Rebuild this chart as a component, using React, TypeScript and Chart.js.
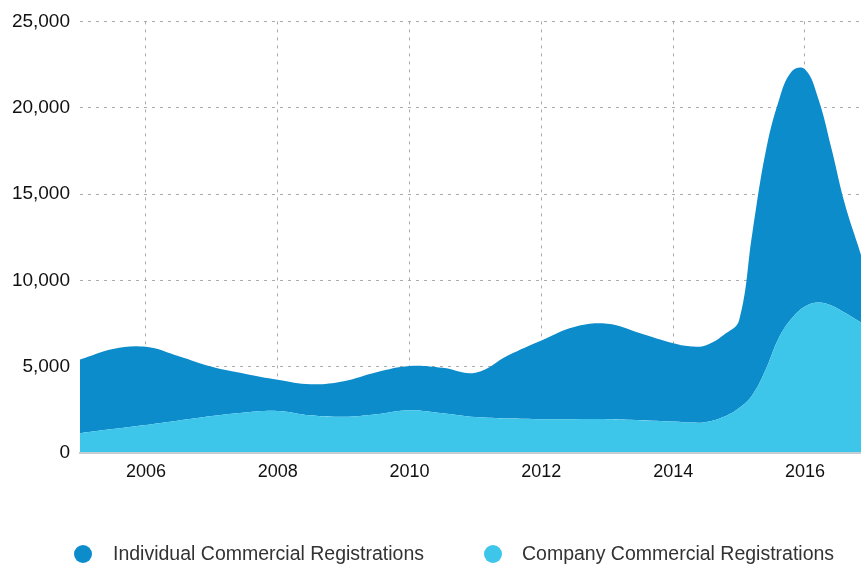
import React, { useEffect, useRef } from "react";
import { Chart, registerables } from "chart.js";

Chart.register(...registerables);

// decimal years of the sampled points
const years = [
  2005.0, 2005.5, 2006.0, 2006.5, 2007.0, 2007.5, 2008.0, 2008.5, 2009.0, 2009.5,
  2010.0, 2010.5, 2011.0, 2011.5, 2012.0, 2012.5, 2013.0, 2013.5, 2014.0, 2014.25,
  2014.5, 2014.8, 2015.0, 2015.2, 2015.4, 2015.6, 2015.8, 2016.0, 2016.2, 2016.4,
  2016.6, 2016.8, 2017.0,
];

const companyValues = [
  1150, 1390, 1620, 1880, 2140, 2350, 2440, 2180, 2100, 2250,
  2480, 2300, 2080, 2000, 1960, 1960, 1960, 1900, 1820, 1760,
  1800, 2150, 2600, 3350, 4790, 6640, 7800, 8490, 8720, 8550,
  8140, 7680, 7220,
];

const individualValues = [
  4260, 4640, 4530, 3720, 2850, 2240, 1800, 1800, 2060, 2430,
  2560, 2640, 2570, 3660, 4560, 5340, 5520, 5030, 4530, 4420,
  4440, 4780, 5080, 9350, 12590, 13740, 14310, 13740, 11830, 9120,
  6350, 4390, 2480,
];

const xTickYears = [2006, 2008, 2010, 2012, 2014, 2016];
const yTickValues = [0, 5000, 10000, 15000, 20000, 25000];

const seriesNames = ["Individual Commercial Registrations", "Company Commercial Registrations"];
const INDIVIDUAL_COLOR = "#0d8ccc";
const COMPANY_COLOR = "#3ec6ea";
const FONT = "'Liberation Sans', Arial, sans-serif";

export default function App() {
  const canvasRef = useRef<HTMLCanvasElement | null>(null);

  useEffect(() => {
    const canvas = canvasRef.current;
    if (!canvas) return;
    const chart = new Chart(canvas, {
      type: "line",
      data: {
        datasets: [
          {
            label: seriesNames[1],
            data: years.map((x, i) => ({ x, y: companyValues[i] })),
            backgroundColor: COMPANY_COLOR,
            borderWidth: 0,
            pointRadius: 0,
            fill: "origin",
            tension: 0.4,
          },
          {
            label: seriesNames[0],
            data: years.map((x, i) => ({ x, y: individualValues[i] })),
            backgroundColor: INDIVIDUAL_COLOR,
            borderWidth: 0,
            pointRadius: 0,
            fill: "-1",
            tension: 0.4,
          },
        ],
      },
      options: {
        animation: false,
        responsive: false,
        devicePixelRatio: 1,
        layout: { padding: { top: 20, right: 0, left: 0, bottom: 0 } },
        plugins: {
          legend: { display: false },
          tooltip: { enabled: false },
        },
        scales: {
          x: {
            type: "linear",
            min: 2005,
            max: 2016.85,
            afterBuildTicks: (scale: any) => {
              scale.ticks = xTickYears.map((v) => ({ value: v }));
            },
            afterFit: (scale: any) => {
              scale.height = 112;
            },
            ticks: {
              callback: (v: any) => String(v),
              color: "#111",
              font: { family: FONT, size: 18 },
              padding: 8,
              maxRotation: 0,
            },
            grid: {
              color: "#ababab",
              lineWidth: 1,
              drawTicks: false,
            },
            border: { display: true, color: "#c3ced4", width: 2, dash: [3, 5], z: 1 },
          },
          y: {
            stacked: true,
            min: 0,
            max: 25000,
            afterBuildTicks: (scale: any) => {
              scale.ticks = yTickValues.map((v) => ({ value: v }));
            },
            afterFit: (scale: any) => {
              scale.width = 80;
            },
            ticks: {
              callback: (v: any) => Number(v).toLocaleString("en-US"),
              color: "#111",
              font: { family: FONT, size: 19 },
              padding: 10,
            },
            grid: {
              color: (ctx: any) => (ctx.tick && ctx.tick.value === 0 ? "rgba(0,0,0,0)" : "#ababab"),
              lineWidth: 1,
              drawTicks: false,
            },
            border: { display: false, dash: [3, 5] },
          },
        },
      },
    });
    return () => chart.destroy();
  }, []);

  const legendItems = [
    { name: seriesNames[0], color: INDIVIDUAL_COLOR, circleLeft: 74, textLeft: 113 },
    { name: seriesNames[1], color: COMPANY_COLOR, circleLeft: 484, textLeft: 522 },
  ];

  return (
    <div style={{ position: "absolute", left: 0, top: 0, width: 861, height: 565, background: "#fff" }}>
      <canvas ref={canvasRef} width={861} height={565} style={{ display: "block" }} />
      {legendItems.map((it) => (
        <React.Fragment key={it.name}>
          <span
            style={{
              position: "absolute",
              left: it.circleLeft,
              top: 545,
              width: 18,
              height: 18,
              borderRadius: "50%",
              background: it.color,
            }}
          />
          <span
            style={{
              position: "absolute",
              left: it.textLeft,
              top: 554,
              transform: "translateY(-50%)",
              fontFamily: FONT,
              fontSize: 19.5,
              color: "#333",
              whiteSpace: "nowrap",
              lineHeight: 1,
            }}
          >
            {it.name}
          </span>
        </React.Fragment>
      ))}
    </div>
  );
}
